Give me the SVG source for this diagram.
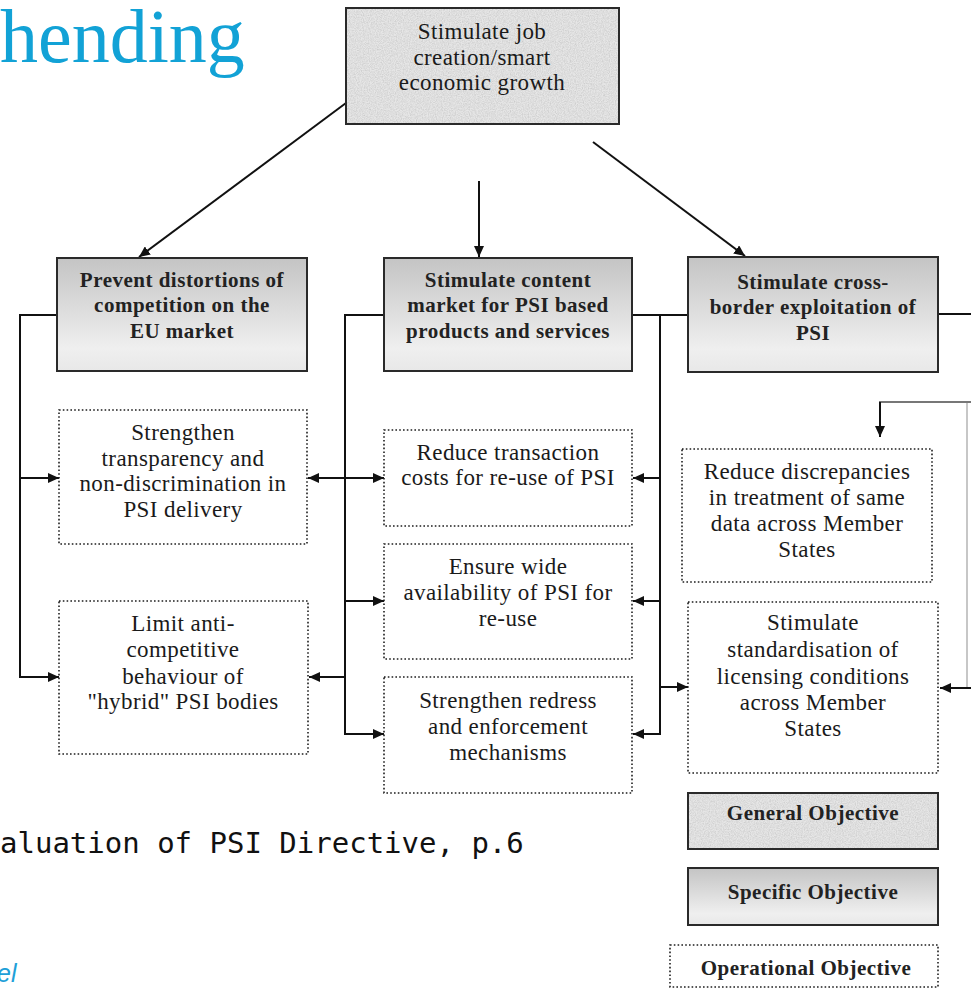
<svg xmlns="http://www.w3.org/2000/svg" width="971" height="989" viewBox="0 0 971 989">
  <defs>
    <style>
      .gbg { fill: #e6e6e6; }
      .frame { fill: none; stroke: #2a2a2a; stroke-width: 2; }
      .spec { fill: url(#specGrad); stroke: #2a2a2a; stroke-width: 2; }
      .op { fill: #ffffff; stroke: #1e1e1e; stroke-width: 1.6; stroke-dasharray: 1.6 2.2; }
      .t { font-family: "Liberation Serif", "Times New Roman", serif; font-size: 23px; text-anchor: middle; letter-spacing: 0.4px; fill: #1a1a1a; }
      .tb { font-family: "Liberation Serif", "Times New Roman", serif; font-size: 21px; font-weight: bold; text-anchor: middle; letter-spacing: 0.5px; fill: #222222; }
      .conn { fill: none; stroke: #111111; stroke-width: 2; }
      .connG { fill: none; stroke: #777777; stroke-width: 2; }
      .connF { fill: none; stroke: #b5b5b5; stroke-width: 1.5; }
      .title { font-family: "Liberation Serif", "Times New Roman", serif; font-size: 76px; fill: #12a2d6; }
      .src { font-family: "DejaVu Sans Mono", "Liberation Mono", monospace; font-size: 29px; fill: #111111; }
      .foot { font-family: "Liberation Sans", Arial, sans-serif; font-size: 25px; font-style: italic; fill: #1ea0d8; }
    </style>
    <linearGradient id="specGrad" x1="0" y1="0" x2="0" y2="1">
      <stop offset="0" stop-color="#c4c4c4"/>
      <stop offset="0.8" stop-color="#efefef"/>
      <stop offset="1" stop-color="#e8e8e8"/>
    </linearGradient>
    <filter id="grain" x="0" y="0" width="100%" height="100%">
      <feTurbulence type="fractalNoise" baseFrequency="0.85" numOctaves="2" seed="4" result="n"/>
      <feColorMatrix in="n" type="matrix" values="0 0 0 0 0.55  0 0 0 0 0.55  0 0 0 0 0.55  1.4 0 0 0 -0.45" result="g"/>
      <feComposite in="g" in2="SourceGraphic" operator="atop"/>
    </filter>
    <marker id="arr" markerUnits="userSpaceOnUse" markerWidth="11" markerHeight="10" refX="11" refY="5" orient="auto">
      <path d="M0,0 L11,5 L0,10 z" fill="#111111"/>
    </marker>
  </defs>

  <rect x="0" y="0" width="971" height="989" fill="#ffffff"/>

  <text class="title" x="0" y="62">hending</text>
  <text class="src" x="0" y="853">aluation of PSI Directive, p.6</text>
  <text class="foot" x="-3" y="982">el</text>

  <g id="connectors">
    <line class="conn" x1="346" y1="103" x2="139" y2="257" marker-end="url(#arr)"/>
    <line class="conn" x1="479" y1="181" x2="479" y2="257" marker-end="url(#arr)"/>
    <line class="conn" x1="593" y1="142" x2="745" y2="256" marker-end="url(#arr)"/>

    <polyline class="conn" points="57,315 20,315 20,677"/>
    <line class="conn" x1="20" y1="478" x2="59" y2="478" marker-end="url(#arr)"/>
    <line class="conn" x1="19" y1="677" x2="59" y2="677" marker-end="url(#arr)"/>

    <polyline class="conn" points="384,315 345,315 345,734"/>
    <line class="conn" x1="345" y1="478" x2="308" y2="478" marker-end="url(#arr)"/>
    <line class="conn" x1="345" y1="478" x2="384" y2="478" marker-end="url(#arr)"/>
    <line class="conn" x1="345" y1="601" x2="384" y2="601" marker-end="url(#arr)"/>
    <line class="conn" x1="345" y1="677" x2="309" y2="677" marker-end="url(#arr)"/>
    <line class="conn" x1="344" y1="734" x2="384" y2="734" marker-end="url(#arr)"/>

    <line class="conn" x1="632" y1="315" x2="688" y2="315"/>
    <line class="conn" x1="660" y1="315" x2="660" y2="734"/>
    <line class="conn" x1="660" y1="478" x2="633" y2="478" marker-end="url(#arr)"/>
    <line class="conn" x1="660" y1="601" x2="633" y2="601" marker-end="url(#arr)"/>
    <line class="conn" x1="660" y1="687" x2="688" y2="687" marker-end="url(#arr)"/>
    <line class="conn" x1="661" y1="734" x2="633" y2="734" marker-end="url(#arr)"/>

    <line class="conn" x1="938" y1="314" x2="971" y2="314"/>
    <line class="connG" x1="879" y1="402" x2="971" y2="402"/>
    <line class="conn" x1="880" y1="402" x2="880" y2="437" marker-end="url(#arr)"/>
    <line class="connF" x1="967" y1="403" x2="967" y2="688"/>
    <line class="conn" x1="971" y1="688" x2="940" y2="688" marker-end="url(#arr)"/>
  </g>

  <g id="n-general">
    <rect class="gbg" x="346" y="8" width="273" height="116" filter="url(#grain)"/>
    <rect class="frame" x="346" y="8" width="273" height="116"/>
    <text class="t" x="482" y="39">Stimulate job</text>
    <text class="t" x="482" y="65">creation/smart</text>
    <text class="t" x="482" y="90">economic growth</text>
  </g>

  <g id="n-spec-competition">
    <rect class="spec" x="57" y="258" width="250" height="113"/>
    <text class="tb" x="182" y="287">Prevent distortions of</text>
    <text class="tb" x="182" y="312">competition on the</text>
    <text class="tb" x="182" y="338">EU market</text>
  </g>

  <g id="n-spec-content">
    <rect class="spec" x="384" y="258" width="248" height="113"/>
    <text class="tb" x="508" y="287">Stimulate content</text>
    <text class="tb" x="508" y="312">market for PSI based</text>
    <text class="tb" x="508" y="338">products and services</text>
  </g>

  <g id="n-spec-crossborder">
    <rect class="spec" x="688" y="257" width="250" height="115"/>
    <text class="tb" x="813" y="289">Stimulate cross-</text>
    <text class="tb" x="813" y="314">border exploitation of</text>
    <text class="tb" x="813" y="340">PSI</text>
  </g>

  <g id="n-op-transparency">
    <rect class="op" x="59" y="410" width="248" height="134"/>
    <text class="t" x="183" y="440">Strengthen</text>
    <text class="t" x="183" y="466">transparency and</text>
    <text class="t" x="183" y="491">non-discrimination in</text>
    <text class="t" x="183" y="517">PSI delivery</text>
  </g>

  <g id="n-op-anticompetitive">
    <rect class="op" x="59" y="601" width="249" height="153"/>
    <text class="t" x="183" y="631">Limit anti-</text>
    <text class="t" x="183" y="657">competitive</text>
    <text class="t" x="183" y="684">behaviour of</text>
    <text class="t" x="183" y="709">"hybrid" PSI bodies</text>
  </g>

  <g id="n-op-transaction">
    <rect class="op" x="384" y="430" width="248" height="96"/>
    <text class="t" x="508" y="460">Reduce transaction</text>
    <text class="t" x="508" y="485">costs for re-use of PSI</text>
  </g>

  <g id="n-op-availability">
    <rect class="op" x="384" y="544" width="248" height="115"/>
    <text class="t" x="508" y="574">Ensure wide</text>
    <text class="t" x="508" y="600">availability of PSI for</text>
    <text class="t" x="508" y="626">re-use</text>
  </g>

  <g id="n-op-redress">
    <rect class="op" x="384" y="677" width="248" height="116"/>
    <text class="t" x="508" y="708">Strengthen redress</text>
    <text class="t" x="508" y="734">and enforcement</text>
    <text class="t" x="508" y="760">mechanisms</text>
  </g>

  <g id="n-op-discrepancies">
    <rect class="op" x="682" y="449" width="250" height="133"/>
    <text class="t" x="807" y="479">Reduce discrepancies</text>
    <text class="t" x="807" y="505">in treatment of same</text>
    <text class="t" x="807" y="531">data across Member</text>
    <text class="t" x="807" y="557">States</text>
  </g>

  <g id="n-op-standardisation">
    <rect class="op" x="688" y="602" width="250" height="171"/>
    <text class="t" x="813" y="630">Stimulate</text>
    <text class="t" x="813" y="657">standardisation of</text>
    <text class="t" x="813" y="684">licensing conditions</text>
    <text class="t" x="813" y="710">across Member</text>
    <text class="t" x="813" y="736">States</text>
  </g>

  <g id="legend-general">
    <rect class="gbg" x="688" y="793" width="250" height="56" filter="url(#grain)"/>
    <rect class="frame" x="688" y="793" width="250" height="56"/>
    <text class="tb" x="813" y="820">General Objective</text>
  </g>

  <g id="legend-specific">
    <rect class="spec" x="688" y="868" width="250" height="57"/>
    <text class="tb" x="813" y="899">Specific Objective</text>
  </g>

  <g id="legend-operational">
    <rect class="op" x="670" y="945" width="268" height="42"/>
    <text class="tb" x="806" y="975">Operational Objective</text>
  </g>
</svg>
